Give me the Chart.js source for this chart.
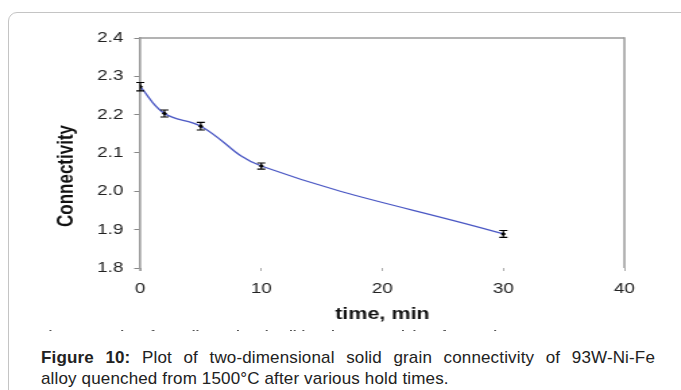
<!DOCTYPE html>
<html>
<head>
<meta charset="utf-8">
<script src="https://cdn.jsdelivr.net/npm/chart.js@4"></script>
<style>
  body { margin: 0; background: #fff; width: 681px; height: 390px; overflow: hidden; position: relative; font-family: "Liberation Sans", Arial, sans-serif; }
  #frame { position: absolute; left: 8px; top: 12px; width: 720px; height: 420px; border: 1px solid #c4c4c4; border-radius: 9px 0 0 0; }
  #wrap { position: absolute; left: 0; top: 0; width: 681px; height: 345px; }
  /* the figure image is stretched sideways in the source page */
  #myChart { width: 681px; height: 345px; display: block; }
  #ghost { position: absolute; left: 40px; top: 327px; width: 480px; height: 4px; overflow: hidden; color: #555; }
  #ghost span { position: absolute; left: 0; top: 1px; font-weight: bold; font-size: 14px; white-space: nowrap; }
  #caption { position: absolute; left: 41px; top: 347px; width: 614px; font-size: 17px; line-height: 21px; color: #222; letter-spacing: 0.15px; }
  #caption .l1 { display: block; text-align: justify; text-align-last: justify; white-space: nowrap; }
  #caption .l2 { display: block; white-space: nowrap; }
</style>
</head>
<body>
<div id="frame"></div>
<div id="wrap"><canvas id="myChart" width="505" height="345" style="width:681px;height:345px"></canvas></div>
<div id="ghost"><span>Figure 10: Plot of two-dimensional solid grain connectivity of 93W-Ni-Fe</span></div>
<div id="caption">
  <span class="l1"><b>Figure 10:</b> Plot of two-dimensional solid grain connectivity of 93W-Ni-Fe</span>
  <span class="l2">alloy quenched from 1500°C after various hold times.</span>
</div>
<script>
// hold time (min) and measured connectivity
let times = [0, 2, 5, 10, 30];
let connectivity = [2.273, 2.203, 2.170, 2.066, 1.889];
let errors = [0.011, 0.009, 0.010, 0.008, 0.009];
let xTicks = [0, 10, 20, 30, 40];
let yTicks = [1.8, 1.9, 2.0, 2.1, 2.2, 2.3, 2.4];

let font = "'Liberation Sans', Arial, sans-serif";

// error bars, box top/right and axis titles
let extras = {
  id: 'extras',
  afterDatasetsDraw(chart) {
    let ctx = chart.ctx;
    let xs = chart.scales.x, ys = chart.scales.y;
    let a = chart.chartArea;
    ctx.save();
    ctx.strokeStyle = '#000';
    ctx.lineWidth = 1.1;
    times.forEach((t, i) => {
      let px = xs.getPixelForValue(t);
      let top = ys.getPixelForValue(connectivity[i] + errors[i]);
      let bot = ys.getPixelForValue(connectivity[i] - errors[i]);
      ctx.beginPath();
      ctx.moveTo(px, top); ctx.lineTo(px, bot);
      ctx.moveTo(px - 3, top); ctx.lineTo(px + 3, top);
      ctx.moveTo(px - 3, bot); ctx.lineTo(px + 3, bot);
      ctx.stroke();
    });
    // box top and right edges
    ctx.strokeStyle = '#9a9a9a';
    ctx.lineWidth = 1.6;
    ctx.beginPath();
    ctx.moveTo(a.left, a.top); ctx.lineTo(a.right, a.top);
    ctx.stroke();
    ctx.lineWidth = 1.5;
    ctx.beginPath();
    ctx.moveTo(a.right, a.top - 0.8); ctx.lineTo(a.right, a.bottom);
    ctx.moveTo(a.left, a.bottom); ctx.lineTo(a.left, a.bottom + 3);
    ctx.stroke();
    // axis titles
    ctx.fillStyle = '#111';
    ctx.font = 'bold 16px ' + font;
    ctx.textAlign = 'center';
    ctx.textBaseline = 'middle';
    ctx.fillText('time, min', (a.left + a.right) / 2, 315);
    ctx.font = 'bold 17px ' + font;
    ctx.translate(49.7, (a.top + a.bottom) / 2 + 23);
    ctx.rotate(-Math.PI / 2);
    ctx.fillText('Connectivity', 0, 0);
    ctx.restore();
  }
};

let myChart = new Chart(document.getElementById('myChart').getContext('2d'), {
  type: 'line',
  data: {
    datasets: [{
      data: times.map((t, i) => ({ x: t, y: connectivity[i] })),
      borderColor: '#4b58c4',
      borderWidth: 1.3,
      tension: 0.4,
      pointStyle: 'rectRot',
      pointRadius: 2,
      pointBackgroundColor: '#000',
      pointBorderColor: '#000',
      pointBorderWidth: 0
    }]
  },
  options: {
    responsive: false,
    animation: false,
    events: [],
    layout: { padding: { left: 0, top: 38, right: 42, bottom: 0 } },
    plugins: { legend: { display: false }, tooltip: { enabled: false } },
    scales: {
      x: {
        type: 'linear',
        min: 0,
        max: 40,
        afterFit: s => { s.height = 77; },
        afterBuildTicks: s => { s.ticks = xTicks.map(v => ({ value: v })); },
        border: { display: false },
        grid: { drawOnChartArea: false, drawTicks: true, tickLength: 3, tickColor: '#aaa', color: 'rgba(0,0,0,0)' },
        ticks: { color: '#222', font: { family: font, size: 14 }, padding: 10, maxRotation: 0 }
      },
      y: {
        min: 1.8,
        max: 2.4,
        afterFit: s => { s.width = 104; },
        afterBuildTicks: s => { s.ticks = yTicks.map(v => ({ value: v })); },
        border: { display: true, color: '#9a9a9a', width: 1.6 },
        grid: { drawOnChartArea: false, drawTicks: true, tickLength: 4.5, tickColor: '#888', color: 'rgba(0,0,0,0)' },
        ticks: { color: '#222', font: { family: font, size: 14 }, padding: 8, callback: v => v.toFixed(1) }
      }
    }
  },
  plugins: [extras]
});
</script>
</body>
</html>
